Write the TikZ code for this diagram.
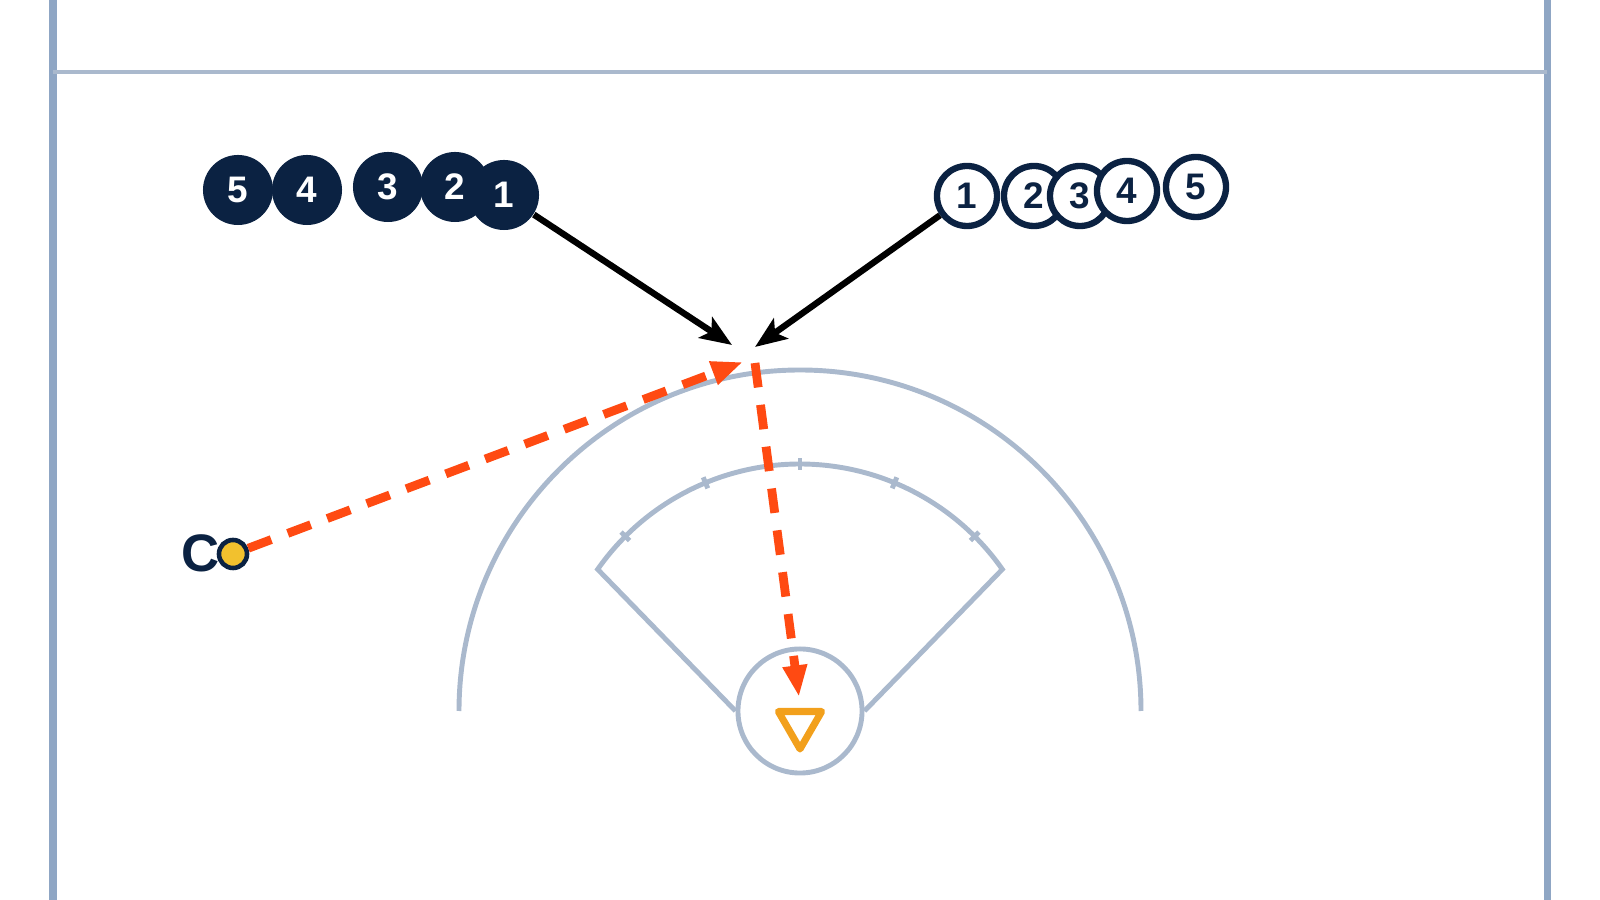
\documentclass[tikz,border=0pt]{standalone}
\usepackage{fontspec}
\setmainfont{Liberation Sans}
\usetikzlibrary{arrows.meta,shapes.geometric}
\definecolor{navy}{HTML}{0B2242}
\definecolor{fieldgray}{HTML}{AAB9CD}
\definecolor{sideblue}{HTML}{8FA6C4}
\definecolor{passred}{HTML}{FF4A12}
\definecolor{goalorange}{HTML}{F2A01C}
\definecolor{ballyellow}{HTML}{F2C12E}
\begin{document}
\begin{tikzpicture}[
                x=0.01cm, y=0.01cm,
                darkplayer/.style={circle, fill=navy, minimum size=0.7cm, inner sep=0pt, text=white, font=\fontsize{10.5}{10.5}\selectfont\bfseries},
                lightplayer/.style={circle, fill=white, draw=navy, line width=1.8pt, minimum size=0.6cm, inner sep=0pt, text=navy, font=\fontsize{10.5}{10.5}\selectfont\bfseries},
                fieldline/.style={draw=fieldgray, line width=1.4pt},
                sideline/.style={draw=sideblue, line width=2pt},
                runline/.style={line width=1.8pt, -{Stealth[length=9pt, width=7pt, inset=2pt]}},
                passline/.style={passred, line width=2.5pt, dash pattern=on 7pt off 5pt, -{Triangle[length=9pt, width=6.5pt]}},
            ]
            \useasboundingbox (0,0) rectangle (1600,900);
            % field
            \draw[sideline] (53,0) -- (53,900);
            \draw[sideline] (1547,0) -- (1547,900);
            \draw[fieldline] (53,828) -- (1547,828);
            \node[circle, fieldline, minimum size=1.24cm] (crease) at (800,189) {};
            \draw[fieldline] (459,189) arc[start angle=180, end angle=0, radius=341];
            \path (crease.center) ++(145:247) coordinate (fanL);
            \draw[fieldline] (crease.west) -- (fanL) arc[start angle=145, end angle=35, radius=247] -- (crease.east);
            \foreach \a in {45,67.5,90,112.5,135}
                \draw[fieldline] ([shift={(\a:241)}]crease.center) -- ([shift={(\a:253)}]crease.center);
            \node[regular polygon, regular polygon sides=3, shape border rotate=180, draw=goalorange, line width=2pt, line join=round, minimum size=0.5cm, inner sep=0pt] (goal) at (800,176) {};
            % lines of players
            \foreach \n/\x/\y in {5/238/710, 4/307/710, 3/388/713, 2/455/713, 1/504/705}
                \node[darkplayer] (d\n) at (\x,\y) {\n};
            \foreach \n/\x/\y in {1/967/704, 2/1034/704, 3/1080/704, 4/1127/709, 5/1196/713}
                \node[lightplayer] (l\n) at (\x,\y) {\n};
            % coach and ball
            \node[text=navy, font=\fontsize{15}{15}\selectfont\bfseries, inner sep=0pt] (coach) at (201,347) {C};
            \node[circle, fill=ballyellow, draw=navy, line width=1.3pt, minimum size=0.28cm, inner sep=0pt] (ball) at (233,346) {};
            % runs and passes
            \coordinate (meetL) at (732,555);
            \coordinate (meetR) at (755,553);
            \coordinate (catch) at (743,538);
            \coordinate (shoot) at (755,537);
            \coordinate (shot) at (799,203);
            \draw[runline] (d1) -- (meetL);
            \draw[runline] (l1) -- (meetR);
            \draw[passline] (ball) -- (catch);
            \draw[passline] (shoot) -- (shot);
            \end{tikzpicture}
\end{document}
